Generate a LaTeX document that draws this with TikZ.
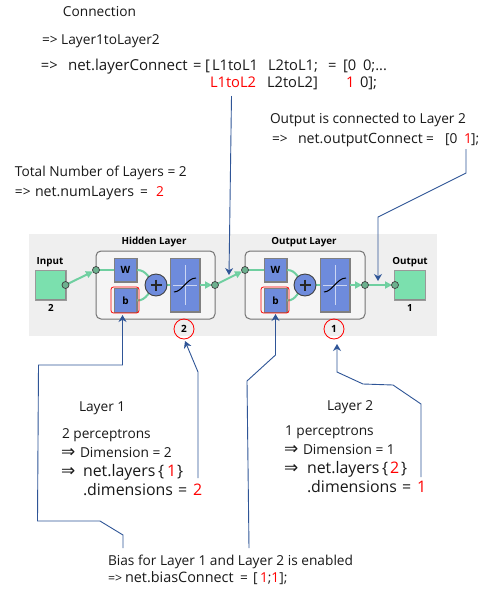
\documentclass[tikz,border=0pt]{standalone}
\usepackage{fontspec}
\setmainfont{Open Sans}
\newfontfamily\symfont{DejaVu Sans}
\definecolor{leader}{HTML}{2F5597}
\definecolor{nnblue}{HTML}{6E8BDC}
\definecolor{nngreen}{HTML}{7BE0AE}
\definecolor{nnline}{HTML}{6FCFA0}
\definecolor{nngrey}{HTML}{EFEFEF}
\definecolor{redtxt}{HTML}{FF0000}
\newcommand{\rd}[1]{\textcolor{redtxt}{#1}}
\usetikzlibrary{arrows.meta,calc}
\tikzset{
  txt/.style={anchor=base west,inner sep=0pt,outer sep=0pt,font=\fontsize{13.7}{15}\selectfont,text=black!90},
  txtb/.style={txt,font=\fontsize{14.7}{17}\selectfont},
  txtc/.style={txt,font=\fontsize{15.9}{17}\selectfont},
  redt/.style={text=redtxt},
  sym/.style={txt,font=\symfont\fontsize{17}{17}\selectfont},
  leaderline/.style={draw=leader,line width=0.9pt,-{Stealth[length=7pt,width=8pt]}},
  layerbox/.style={draw=black!55,line width=1pt,rounded corners=5pt,fill=black!4},
  blk/.style={draw=black!50,fill=nnblue,line width=0.5pt,minimum width=23pt,minimum height=24pt,inner sep=0pt,font=\bfseries\fontsize{10}{11}\selectfont,
     path picture={\draw[black!50,line width=1.6pt] (path picture bounding box.south west)--(path picture bounding box.south east)--(path picture bounding box.north east);
       \draw[nnblue!60!white,line width=1.2pt] (path picture bounding box.south west)--(path picture bounding box.north west)--(path picture bounding box.north east);}},
  tf/.style={blk,minimum width=30pt,minimum height=54pt},
  ionode/.style={draw=black!40,fill=nngreen,line width=0.5pt,minimum width=31pt,minimum height=30pt,inner sep=0pt,
     path picture={\draw[black!45,line width=1.6pt] (path picture bounding box.south west)--(path picture bounding box.south east)--(path picture bounding box.north east);}},
  dotn/.style={circle,draw=black!75,fill=nngreen!75!black!90,line width=0.7pt,minimum size=7pt,inner sep=0pt},
  sumn/.style={circle,draw=black!75,fill=nnblue,line width=0.9pt,minimum size=22pt,inner sep=0pt},
  wire/.style={draw=nnline,line width=2pt},
  wirea/.style={wire,-{Triangle[length=7pt,width=7pt,fill=nngreen]}},
  lab/.style={inner sep=0pt,font=\bfseries\fontsize{9.8}{11}\selectfont},
  redbox/.style={draw=redtxt,line width=0.8pt,rounded corners=2.5pt,minimum width=28pt,minimum height=26pt,inner sep=0pt},
  redcirc/.style={circle,draw=redtxt,line width=0.8pt,minimum size=20pt,inner sep=0pt,font=\bfseries\fontsize{10}{11}\selectfont},
}
\begin{document}
\begin{tikzpicture}[x=1pt,y=-1pt]
\useasboundingbox (0,0) rectangle (488,590);
\fill[white] (0,0) rectangle (488,590);
\fill[nngrey] (29,234) rectangle (437,336);
% layers
\draw[layerbox] (96,251) rectangle (215,319);
\draw[layerbox] (245,251) rectangle (365,319);
\node[lab] (hl) at (154,242) {Hidden Layer};
\node[lab] (ol) at (304,242) {Output Layer};
\node[lab] (il) at (50,262) {Input};
\node[lab] (otl) at (410,262) {Output};
\node[lab] (i2) at (51,308) {2};
\node[lab] (o1) at (410,308) {1};
% input / output
\node[ionode] (inp) at (50.5,285) {};
\node[ionode] (outp) at (410,285) {};
% blocks
\node[blk] (w1) at (125.5,270) {W};
\node[blk] (b1) at (125.5,300.5) {b};
\node[tf] (t1) at (185,285) {};
\node[blk] (w2) at (275.5,270) {W};
\node[blk] (b2) at (275.5,300.5) {b};
\node[tf] (t2) at (335,285) {};
\coordinate (s1c) at (156,285);
\coordinate (s2c) at (305,285);
% dots
\coordinate (d0) at (65.5,285);
\coordinate (d1) at (96,270);
\coordinate (d2) at (215,285);
\coordinate (d3) at (245,270);
\coordinate (d4) at (365,285);
\coordinate (d5) at (395,285);
% wires
\draw[wirea] (d0) -- ($(d1)+(-3,1.5)$);
\draw[wire] (d1) -- (w1);
\draw[wire] (w1.east) to[out=0,in=140] (s1c);
\draw[wire] (b1.east) to[out=0,in=220] (s1c);
\draw[wire] (s1c) -- (t1);
\draw[wirea] (t1) -- ($(d2)+(-3,0)$);
\draw[wirea] (d2) -- ($(d3)+(-3,1.5)$);
\draw[wire] (d3) -- (w2);
\draw[wire] (w2.east) to[out=0,in=140] (s2c);
\draw[wire] (b2.east) to[out=0,in=220] (s2c);
\draw[wire] (s2c) -- (t2);
\draw[wirea] (t2) -- ($(d4)+(-3,0)$);
\draw[wirea] (d4) -- ($(d5)+(-3,0)$);
% tops
\node[sumn] (s1) at (s1c) {};
\node[sumn] (s2) at (s2c) {};
\foreach \n in {s1c,s2c}{
  \draw[black!85,line width=1.3pt] ($(\n)+(-5.5,0)$) -- ($(\n)+(5.5,0)$);
  \draw[black!85,line width=1.3pt] ($(\n)+(0,-5.5)$) -- ($(\n)+(0,5.5)$);
}
\node[dotn] (nd0) at (d0) {};
\node[dotn] (nd1) at (d1) {};
\node[dotn] (nd2) at (d2) {};
\node[dotn] (nd3) at (d3) {};
\node[dotn] (nd4) at (d4) {};
\node[dotn] (nd5) at (d5) {};
\foreach \n in {t1,t2}{
  \draw[white!65!nnblue,line width=0.5pt] ($(\n)+(0,-20)$) -- ($(\n)+(0,20)$);
  \draw[white!65!nnblue,line width=0.5pt] ($(\n)+(-12,0)$) -- ($(\n)+(12,0)$);
  \draw[black,line width=1pt] ($(\n)+(-11,7)$) .. controls ($(\n)+(-3,7)$) and ($(\n)+(2,-7)$) .. ($(\n)+(11,-7)$);
}
% red marks
\node[redbox] (rb1) at (125,300) {};
\node[redbox] (rb2) at (275,300) {};
\node[redcirc] (c2) at (184,329) {2};
\node[redcirc] (c1) at (334,329) {1};
% top text
\node[txt] (t01) at (63,16.5) {Connection};
\node[txt] (t02) at (42,44.5) {=> Layer1toLayer2};
\node[txtb] (t03a) at (41,70) {=>};
\node[txtb,font=\fontsize{15.1}{17}\selectfont] (t03b) at (68,70) {net.layerConnect};
\node[txtb] (t03c) at (193,70) {=};
\node[txtb] (t03d) at (205,70) {[};
\node[txtb] (t04) at (212,70) {L1toL1};
\node[txtb] (t05) at (268,70) {L2toL1;};
\node[txtb] (t06a) at (328,70) {=};
\node[txtb] (t06b) at (343,70) {[0};
\node[txtb] (t06c) at (363,70) {0;...};
\node[txtb,redt] (t07) at (210,87) {L1toL2};
\node[txtb] (t08) at (267,87) {L2toL2]};
\node[txtb,redt] (t09) at (346,87) {1};
\node[txtb] (t10) at (360,87) {0];};
\node[txt] (t11) at (270,123.5) {Output is connected to Layer 2};
\node[txt] (t12a) at (272,143) {=>};
\node[txt,font=\fontsize{14.2}{15}\selectfont] (t12b) at (298,143) {net.outputConnect};
\node[txt] (t12c) at (426,143) {=};
\node[txt] (t12d) at (445,143) {[0};
\node[txt,redt] (t12e) at (464,143) {1};
\node[txt] (t12f) at (471,143) {];};
\node[txt] (t13) at (15,176) {Total Number of Layers = 2};
\node[txt] (t14a) at (15,196) {=>};
\node[txt,font=\fontsize{14.2}{15}\selectfont] (t14b) at (35,196) {net.numLayers};
\node[txt] (t14c) at (140,196) {=};
\node[txt,redt] (t14d) at (156,196) {2};
% layer 1
\node[txt] (a1) at (79,411) {Layer 1};
\node[txt] (a2) at (62,438) {2 perceptrons};
\node[sym] (a3s) at (61,457) {⇒};
\node[txt] (a3) at (80,457) {Dimension = 2};
\node[sym] (a4s) at (61,476) {⇒};
\node[txtc] (a4a) at (83,476) {net.layers};
\node[txtc] (a4b) at (158,476) {\{};
\node[txtc,redt] (a4c) at (167,476) {1};
\node[txtc] (a4d) at (177,476) {\}};
\node[txtc] (a5a) at (83,495) {.dimensions};
\node[txtc] (a5b) at (178,495) {=};
\node[txtc,redt] (a5c) at (193,495) {2};
% layer 2
\node[txt] (e1) at (327,410) {Layer 2};
\node[txt] (e2) at (285,435) {1 perceptrons};
\node[sym] (e3s) at (284,454) {⇒};
\node[txt] (e3) at (303,454) {Dimension = 1};
\node[sym] (e4s) at (284,473) {⇒};
\node[txtc] (e4a) at (307,473) {net.layers};
\node[txtc] (e4b) at (382,473) {\{};
\node[txtc,redt] (e4c) at (390,473) {2};
\node[txtc] (e4d) at (401,473) {\}};
\node[txtc] (e5a) at (307,492) {.dimensions};
\node[txtc] (e5b) at (402,492) {=};
\node[txtc,redt] (e5c) at (417,492) {1};
% bias
\node[txt] (g1) at (108,565) {Bias for Layer 1 and Layer 2 is enabled};
\node[txt,font=\fontsize{12.4}{15}\selectfont] (g2a) at (108,582) {=>};
\node[txt,font=\fontsize{14.4}{15}\selectfont] (g2b) at (125,582) {net.biasConnect};
\node[txt] (g2c) at (240,582) {=};
\node[txt] (g2d) at (253,582) {[};
\node[txt] (g2e) at (260,582) {\rd{1};\rd{1}];};
% leader end points
\coordinate (lc0) at (231.5,96);
\coordinate (lc1) at (229,275);
\coordinate (oc0) at (466,149);
\coordinate (oc1) at (466,173);
\coordinate (oc2) at (378,217);
\coordinate (oc3) at (378,281);
\coordinate (ba0) at (123,548);
\coordinate (ba1) at (123,535);
\coordinate (ba2) at (100,521);
\coordinate (ba3) at (37.5,521);
\coordinate (ba4) at (38.5,365);
\coordinate (ba5) at (122.5,365);
\coordinate (ba6) at (122.5,315);
\coordinate (bb0) at (249,548);
\coordinate (bb1) at (247,381);
\coordinate (bb2) at (275.5,355);
\coordinate (bb3) at (275.5,314);
\coordinate (da0) at (198,478);
\coordinate (da1) at (198,372);
\coordinate (da2) at (185,341);
\coordinate (ea0) at (421,477);
\coordinate (ea1) at (421,404);
\coordinate (ea2) at (393,385);
\coordinate (ea3) at (363,384);
\coordinate (ea4) at (337,372);
\coordinate (ea5) at (337,344);
\draw[leaderline] (lc0) -- (lc1);
\draw[leaderline] (oc0) -- (oc1) -- (oc2) -- (oc3);
\draw[leaderline] (ba0) -- (ba1) -- (ba2) -- (ba3) -- (ba4) -- (ba5) -- (ba6);
\draw[leaderline] (bb0) -- (bb1) -- (bb2) -- (bb3);
\draw[leaderline] (da0) -- (da1) -- (da2);
\draw[leaderline] (ea0) -- (ea1) -- (ea2) -- (ea3) -- (ea4) -- (ea5);
\end{tikzpicture}
\end{document}
